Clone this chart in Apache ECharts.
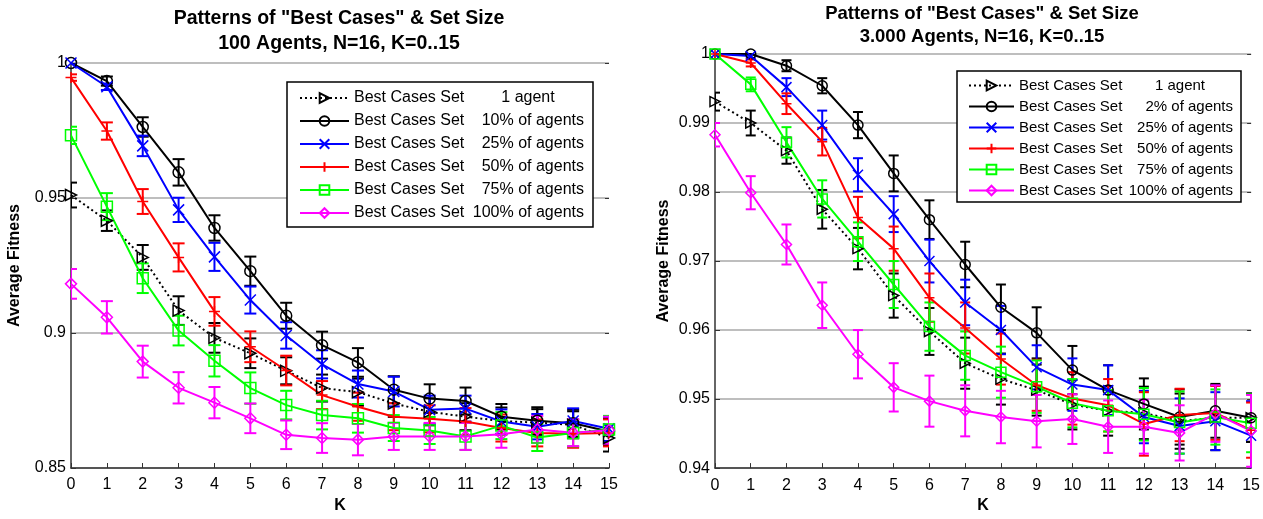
<!DOCTYPE html>
<html>
<head>
<meta charset="utf-8">
<title>Patterns of "Best Cases" & Set Size</title>
<script src="https://cdn.jsdelivr.net/npm/echarts@6/dist/echarts.min.js"></script>
<style>
  html, body { margin: 0; padding: 0; background: #fff; }
  #chart { width: 1263px; height: 519px; }
</style>
</head>
<body>
<div id="chart"></div>
<script>
// K values (x axis)
const kValues = [0, 1, 2, 3, 4, 5, 6, 7, 8, 9, 10, 11, 12, 13, 14, 15];

// ---- left panel: 100 agents ----
const leftLabels = ['1 agent', '10% of agents', '25% of agents', '50% of agents', '75% of agents', '100% of agents'];
const left1Agent = [0.9511, 0.9416, 0.928, 0.9083, 0.8982, 0.8925, 0.886, 0.8796, 0.8781, 0.8739, 0.8708, 0.869, 0.8674, 0.8668, 0.866, 0.8611];
const left1AgentErr = [0.0046, 0.0038, 0.0046, 0.0053, 0.0055, 0.0055, 0.005, 0.005, 0.005, 0.005, 0.005, 0.005, 0.005, 0.005, 0.005, 0.005];
const left10 = [1.0, 0.9933, 0.9763, 0.9595, 0.9389, 0.9229, 0.9064, 0.8955, 0.8891, 0.879, 0.8757, 0.8748, 0.869, 0.8675, 0.8666, 0.8635];
const left10Err = [0, 0.0017, 0.0036, 0.0049, 0.0047, 0.0054, 0.0048, 0.005, 0.0053, 0.005, 0.0053, 0.005, 0.0047, 0.005, 0.005, 0.005];
const left25 = [1.0, 0.9912, 0.9693, 0.9456, 0.9282, 0.9122, 0.8991, 0.8884, 0.8811, 0.8783, 0.8716, 0.872, 0.8672, 0.8653, 0.8674, 0.8645];
const left25Err = [0, 0.0012, 0.0038, 0.0045, 0.0052, 0.005, 0.0049, 0.0052, 0.005, 0.0055, 0.0052, 0.0048, 0.0045, 0.0047, 0.0047, 0.0045];
const left50 = [0.9946, 0.9748, 0.9487, 0.928, 0.908, 0.8949, 0.8861, 0.877, 0.8727, 0.869, 0.8682, 0.8672, 0.8648, 0.863, 0.8627, 0.863];
const left50Err = [0.0012, 0.0032, 0.0046, 0.0052, 0.0053, 0.0057, 0.0055, 0.0052, 0.0052, 0.005, 0.005, 0.005, 0.005, 0.005, 0.0052, 0.005];
const left75 = [0.9732, 0.9468, 0.9203, 0.9009, 0.8897, 0.8796, 0.8733, 0.8696, 0.8684, 0.8648, 0.8639, 0.8617, 0.8657, 0.8613, 0.863, 0.8643];
const left75Err = [0.0032, 0.005, 0.0055, 0.0055, 0.0058, 0.0058, 0.0053, 0.0053, 0.0053, 0.0048, 0.005, 0.005, 0.005, 0.005, 0.005, 0.005];
const left100 = [0.9182, 0.9058, 0.8894, 0.8797, 0.8742, 0.8684, 0.8623, 0.8611, 0.8605, 0.8617, 0.8617, 0.8617, 0.8625, 0.8643, 0.8631, 0.864];
const left100Err = [0.0055, 0.006, 0.0059, 0.0058, 0.0058, 0.0055, 0.0053, 0.0055, 0.0058, 0.005, 0.005, 0.005, 0.005, 0.005, 0.005, 0.005];

// ---- right panel: 3.000 agents ----
const rightLabels = ['1 agent', '2% of agents', '25% of agents', '50% of agents', '75% of agents', '100% of agents'];
const right1Agent = [0.9931, 0.99, 0.986, 0.9775, 0.9718, 0.965, 0.9598, 0.9552, 0.9529, 0.9513, 0.9492, 0.9483, 0.948, 0.9468, 0.9473, 0.9473];
const right1AgentErr = [0.0013, 0.0018, 0.0019, 0.0028, 0.003, 0.0032, 0.0034, 0.0037, 0.0037, 0.0037, 0.0036, 0.0036, 0.0038, 0.004, 0.0047, 0.0035];
const right2 = [1.0, 1.0, 0.9983, 0.9954, 0.9897, 0.9827, 0.976, 0.9695, 0.9633, 0.9596, 0.9542, 0.9513, 0.9493, 0.9474, 0.9483, 0.9473];
const right2Err = [0, 0, 0.0008, 0.0011, 0.0019, 0.0026, 0.0028, 0.0033, 0.0033, 0.0037, 0.0035, 0.0036, 0.0037, 0.004, 0.0039, 0.0035];
const right25 = [1.0, 0.9997, 0.9952, 0.9897, 0.9825, 0.9768, 0.97, 0.964, 0.96, 0.9546, 0.9521, 0.9513, 0.9474, 0.9461, 0.9468, 0.9447];
const right25Err = [0, 0.0003, 0.0013, 0.0021, 0.0024, 0.0026, 0.0031, 0.0033, 0.0035, 0.0032, 0.0038, 0.0036, 0.0038, 0.004, 0.0042, 0.005];
const right50 = [1.0, 0.9987, 0.9928, 0.9873, 0.9763, 0.9718, 0.9647, 0.9603, 0.9558, 0.952, 0.9501, 0.9491, 0.9464, 0.9477, 0.948, 0.9455];
const right50Err = [0, 0.0005, 0.0015, 0.002, 0.003, 0.0032, 0.0035, 0.0037, 0.0037, 0.0037, 0.0038, 0.0038, 0.0046, 0.0038, 0.0039, 0.004];
const right75 = [1.0, 0.9956, 0.9872, 0.979, 0.9728, 0.9666, 0.9605, 0.9563, 0.9539, 0.9518, 0.9494, 0.9483, 0.9478, 0.9466, 0.9474, 0.9465];
const right75Err = [0, 0.001, 0.0022, 0.0027, 0.0028, 0.0034, 0.0035, 0.0035, 0.0037, 0.0038, 0.0035, 0.003, 0.0038, 0.0045, 0.004, 0.0042];
const right100 = [0.9883, 0.9799, 0.9724, 0.9636, 0.9565, 0.9517, 0.9497, 0.9483, 0.9474, 0.9468, 0.9471, 0.946, 0.946, 0.9451, 0.9479, 0.9454];
const right100Err = [0.0017, 0.0024, 0.0029, 0.0033, 0.0035, 0.0035, 0.0037, 0.0037, 0.0038, 0.0038, 0.0036, 0.0038, 0.0039, 0.004, 0.0041, 0.0052];

// matlab-ish line styles, one per group
const colors = ['#000000', '#000000', '#0000ff', '#ff0000', '#00ff00', '#ff00ff'];
const symbols = [
  'path://M0,0L10,5L0,10Z',             // triangle right
  'circle',
  'path://M0,0L10,10M0,10L10,0',        // x
  'path://M5,0L5,10M0,5L10,5',          // +
  'rect',
  'diamond'
];

const FONT = '"Liberation Sans", Arial, sans-serif';

function errorBars (color, capW) {
  return function (params, api) {
    const x = api.value(0);
    const lo = api.coord([x, api.value(1)]);
    const hi = api.coord([x, api.value(2)]);
    const style = { stroke: color, lineWidth: 2, fill: null };
    return {
      type: 'group',
      children: [
        { type: 'line', shape: { x1: lo[0], y1: lo[1], x2: hi[0], y2: hi[1] }, style: style },
        { type: 'line', shape: { x1: lo[0] - capW, y1: lo[1], x2: lo[0] + capW, y2: lo[1] }, style: style },
        { type: 'line', shape: { x1: hi[0] - capW, y1: hi[1], x2: hi[0] + capW, y2: hi[1] }, style: style }
      ]
    };
  };
}

function buildSeries (panel, idx, labels, values, errs, symSize, capW) {
  const out = [];
  values.forEach(function (vals, i) {
    const name = panel + ': ' + labels[i];
    out.push({
      type: 'custom',
      xAxisIndex: idx,
      yAxisIndex: idx,
      renderItem: errorBars(colors[i], capW),
      encode: { x: 0, y: [1, 2] },
      data: kValues.map(function (k, j) { return [k, vals[j] - errs[i][j], vals[j] + errs[i][j]]; }),
      clip: true,
      silent: true,
      z: 2
    });
    out.push({
      name: name,
      type: 'line',
      xAxisIndex: idx,
      yAxisIndex: idx,
      data: kValues.map(function (k, j) { return [k, vals[j]]; }),
      symbol: symbols[i],
      symbolSize: symSize,
      showAllSymbol: true,
      lineStyle: { color: colors[i], width: 2, type: i === 0 ? [2, 3] : 'solid' },
      itemStyle: { color: 'transparent', borderColor: colors[i], borderWidth: 1.5 },
      z: 3
    });
  });
  return out;
}

function legendFor (panel, labels, pos) {
  return {
    orient: 'vertical',
    left: pos.left,
    top: pos.top,
    padding: pos.padding,
    itemGap: pos.gap,
    itemWidth: pos.itemWidth,
    itemHeight: 12,
    borderColor: '#000',
    borderWidth: 1.5,
    borderRadius: 0,
    backgroundColor: '#fff',
    data: labels.map(function (l) { return panel + ': ' + l; }),
    formatter: function (name) {
      const lab = name.split(': ')[1];
      return '{a|Best Cases Set}' + (lab === '1 agent' ? '{c|' + lab + '}' : '{b|' + lab + '}');
    },
    textStyle: {
      fontFamily: FONT,
      fontSize: pos.fontSize,
      color: '#000',
      rich: {
        a: { width: pos.colA, fontSize: pos.fontSize, lineHeight: 16, fontFamily: FONT },
        b: { width: pos.colB, align: 'right', fontSize: pos.fontSize, lineHeight: 16, fontFamily: FONT },
        c: { width: pos.colB, align: 'center', fontSize: pos.fontSize, lineHeight: 16, fontFamily: FONT }
      }
    }
  };
}

function xAxisFor (grid, gap) {
  return {
    type: 'value',
    gridIndex: grid,
    min: 0,
    max: 15,
    interval: 1,
    name: 'K',
    nameLocation: 'middle',
    nameGap: gap,
    nameTextStyle: { fontFamily: FONT, fontSize: 16, fontWeight: 'bold', color: '#000' },
    axisLine: { lineStyle: { color: '#333', width: 1.5 } },
    axisTick: { inside: true, length: 5, lineStyle: { color: '#333' } },
    axisLabel: { color: '#000', fontSize: 16, fontFamily: FONT, margin: 9 },
    splitLine: { show: false }
  };
}

function yAxisFor (grid, min, interval, gap) {
  return {
    type: 'value',
    gridIndex: grid,
    min: min,
    max: 1,
    interval: interval,
    name: 'Average Fitness',
    nameLocation: 'middle',
    nameGap: gap,
    nameTextStyle: { fontFamily: FONT, fontSize: 16, fontWeight: 'bold', color: '#000' },
    axisLine: { show: true, lineStyle: { color: '#333', width: 1.5 } },
    axisTick: { show: true, inside: true, length: 5, lineStyle: { color: '#333' } },
    axisLabel: { color: '#000', fontSize: 16, fontFamily: FONT, margin: 5 },
    splitLine: { show: true, lineStyle: { color: '#a8a8a8', width: 1.5 } }
  };
}

// small tick marks on the right edge
function rightTicks (grid, min, interval) {
  return {
    type: 'value',
    gridIndex: grid,
    position: 'right',
    min: min,
    max: 1,
    interval: interval,
    axisLine: { show: false },
    axisTick: { show: true, inside: true, length: 4, lineStyle: { color: '#333' } },
    axisLabel: { show: false },
    splitLine: { show: false }
  };
}

const myChart = echarts.init(document.getElementById('chart'));

myChart.setOption({
  animation: false,
  backgroundColor: '#fff',
  textStyle: { fontFamily: FONT },
  title: [
    {
      text: 'Patterns of "Best Cases" & Set Size\n100 Agents, N=16, K=0..15',
      left: 339,
      top: 6,
      textAlign: 'center',
      padding: 0,
      textStyle: { fontFamily: FONT, fontSize: 19.5, fontWeight: 'bold', color: '#000', lineHeight: 25 }
    },
    {
      text: 'Patterns of "Best Cases" & Set Size\n3.000 Agents, N=16, K=0..15',
      left: 982,
      top: 2,
      textAlign: 'center',
      padding: 0,
      textStyle: { fontFamily: FONT, fontSize: 18.5, fontWeight: 'bold', color: '#000', lineHeight: 23 }
    }
  ],
  legend: [
    legendFor('L', leftLabels, {
      left: 287, top: 82, padding: [8, 9, 6, 12], gap: 7, itemWidth: 49,
      fontSize: 16, colA: 118, colB: 112
    }),
    legendFor('R', rightLabels, {
      left: 957, top: 71, padding: [7, 8, 4, 11], gap: 6, itemWidth: 45,
      fontSize: 15, colA: 108, colB: 106
    })
  ],
  grid: [
    { left: 71, top: 63, width: 538, height: 410 },
    { left: 715, top: 54, width: 538, height: 424 }
  ],
  xAxis: [xAxisFor(0, 30), xAxisFor(1, 28)],
  yAxis: [
    yAxisFor(0, 0.85, 0.05, 48),
    yAxisFor(1, 0.94, 0.01, 43),
    rightTicks(0, 0.85, 0.05),
    rightTicks(1, 0.94, 0.01)
  ],
  series: [].concat(
    buildSeries('L', 0, leftLabels,
      [left1Agent, left10, left25, left50, left75, left100],
      [left1AgentErr, left10Err, left25Err, left50Err, left75Err, left100Err], 11, 6),
    buildSeries('R', 1, rightLabels,
      [right1Agent, right2, right25, right50, right75, right100],
      [right1AgentErr, right2Err, right25Err, right50Err, right75Err, right100Err], 10, 5)
  )
});
</script>
</body>
</html>
